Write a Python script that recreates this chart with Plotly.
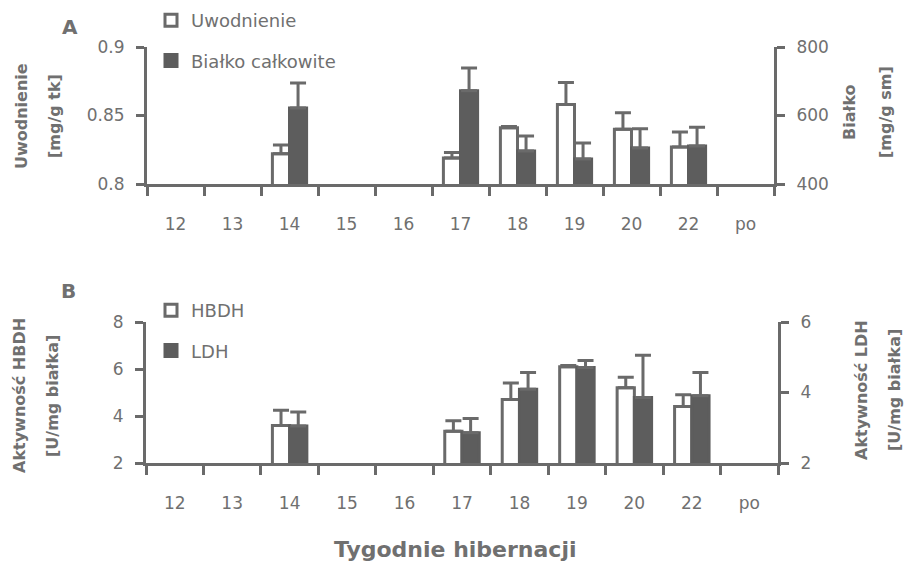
import plotly.graph_objects as go

# ---- data ----
weeks = ["12", "13", "14", "15", "16", "17", "18", "19", "20", "22", "po"]

uwodnienie = [None, None, 0.822, None, None, 0.819, 0.841, 0.858, 0.840, 0.827, None]
uwodnienie_err = [None, None, 0.0065, None, None, 0.004, 0.001, 0.016, 0.012, 0.011, None]

bialko = [None, None, 622, None, None, 672, 496, 473, 505, 511, None]
bialko_err = [None, None, 73, None, None, 67, 44, 47, 56, 55, None]

hbdh = [None, None, 3.6, None, None, 3.35, 4.7, 6.1, 5.2, 4.4, None]
hbdh_err = [None, None, 0.65, None, None, 0.45, 0.7, 0.05, 0.45, 0.5, None]

ldh = [None, None, 3.05, None, None, 2.86, 4.09, 4.71, 3.86, 3.91, None]
ldh_err = [None, None, 0.4, None, None, 0.4, 0.48, 0.2, 1.2, 0.66, None]

yA_left_ticks = [0.8, 0.85, 0.9]
yA_left_text = ["0.8", "0.85", "0.9"]
yA_right_ticks = [400, 600, 800]
yB_left_ticks = [2, 4, 6, 8]
yB_right_ticks = [2, 4, 6]

# ---- style ----
GRAY = "#6a6a6a"
DARK = "#5d5d5d"
TXT = "#707070"
FONT = "DejaVu Sans"
OFF = 8                    # default page body margin
W, H = 912 - OFF, 565 - OFF


def px_x(p):
    return (p - OFF) / W


def px_y(p):
    return 1 - (p - OFF) / H


zeros = [0] * len(weeks)

fig = go.Figure()


def add_bar(x, y, err, xa, ya, group, filled, name, legend):
    fig.add_trace(go.Bar(
        x=x, y=y, xaxis=xa, yaxis=ya, offsetgroup=group, name=name,
        legend=legend, legendgroup=name,
        marker=dict(color=DARK if filled else "white",
                    line=dict(color=DARK if filled else GRAY, width=3)),
        error_y=dict(type="data", array=err, arrayminus=zeros, symmetric=False,
                     color=GRAY, thickness=3, width=8, visible=True),
    ))


add_bar(weeks, uwodnienie, uwodnienie_err, "x", "y", "a", False, "Uwodnienie", "legend")
add_bar(weeks, bialko, bialko_err, "x", "y2", "b", True, "Białko całkowite", "legend")
add_bar(weeks, hbdh, hbdh_err, "x2", "y3", "a", False, "HBDH", "legend2")
add_bar(weeks, ldh, ldh_err, "x2", "y4", "b", True, "LDH", "legend2")

tickfont = dict(family=FONT, size=17, color=TXT)

xcommon = dict(type="category", categoryorder="array", categoryarray=weeks,
               showline=True, linewidth=3, linecolor=GRAY,
               ticks="outside", tickson="boundaries", ticklen=9, tickwidth=3,
               tickcolor=GRAY, tickfont=tickfont, showgrid=False, zeroline=False,
               ticklabelstandoff=23, fixedrange=True, automargin=False)
ycommon = dict(showline=True, linewidth=3, linecolor=GRAY, ticks="outside",
               ticklen=8, tickwidth=3, tickcolor=GRAY, tickfont=tickfont,
               showgrid=False, zeroline=False, ticklabelstandoff=8, automargin=False)

A_top, A_bot = 47, 184
B_top, B_bot = 322, 463

fig.update_layout(
    width=W, height=H,
    margin=dict(l=0, r=0, t=0, b=0, autoexpand=False),
    paper_bgcolor="white", plot_bgcolor="white",
    barmode="group", bargap=0.4, bargroupgap=0,
    font=dict(family=FONT, color=TXT),
    xaxis=dict(domain=[px_x(147), px_x(774)], anchor="y", **xcommon),
    yaxis=dict(domain=[px_y(A_bot), px_y(A_top)], anchor="x", range=[0.8, 0.9],
               tickvals=yA_left_ticks, ticktext=yA_left_text, **ycommon),
    yaxis2=dict(overlaying="y", side="right", anchor="x", range=[400, 800],
                tickvals=yA_right_ticks, **ycommon),
    xaxis2=dict(domain=[px_x(146), px_x(778)], anchor="y3", **xcommon),
    yaxis3=dict(domain=[px_y(B_bot), px_y(B_top)], anchor="x2", range=[2, 8],
                tickvals=yB_left_ticks, **ycommon),
    yaxis4=dict(overlaying="y3", side="right", anchor="x2", range=[2, 6],
                tickvals=yB_right_ticks, **ycommon),
    legend=dict(x=px_x(151), y=px_y(2), xanchor="left", yanchor="top",
                font=dict(family=FONT, size=18, color=TXT),
                tracegroupgap=14, bgcolor="rgba(0,0,0,0)", itemwidth=30),
    legend2=dict(x=px_x(151), y=px_y(292), xanchor="left", yanchor="top",
                 font=dict(family=FONT, size=18, color=TXT),
                 tracegroupgap=14, bgcolor="rgba(0,0,0,0)", itemwidth=30),
    showlegend=True,
)

bold = lambda s: "<b>" + s + "</b>"

ann = [
    ("A", 70, 27, 0, 20),
    ("B", 68, 291, 0, 20),
    ("Uwodnienie", 22, 116, -90, 16),
    ("[mg/g tk]", 55, 116, -90, 16),
    ("Białko", 850, 112, -90, 16),
    ("[mg/g sm]", 886, 112, -90, 16),
    ("Aktywność HBDH", 19, 396, -90, 16),
    ("[U/mg białka]", 52, 396, -90, 16),
    ("Aktywność LDH", 862, 390, -90, 16),
    ("[U/mg białka]", 895, 390, -90, 16),
    ("Tygodnie hibernacji", 455, 549, 0, 22),
]
for text, x, y, ang, size in ann:
    fig.add_annotation(text=bold(text), x=px_x(x), y=px_y(y), xref="paper", yref="paper",
                       showarrow=False, textangle=ang, xanchor="center", yanchor="middle",
                       font=dict(family=FONT, size=size, color=TXT))

fig.write_html("out.html")
